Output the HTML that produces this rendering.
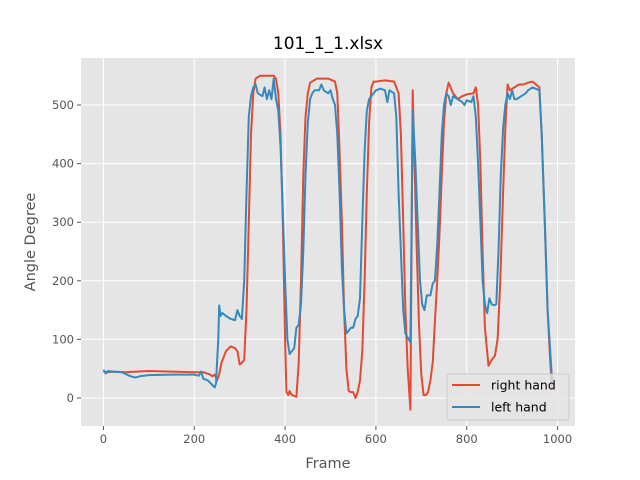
<!DOCTYPE html>
<html><head><meta charset="utf-8"><style>
body{margin:0;background:#fff;}
svg{display:block;font-family:"DejaVu Sans","Liberation Sans",sans-serif;}
</style></head><body>
<svg id="chart" width="640" height="480"></svg>
<script>
const xTicks=[0,200,400,600,800,1000];
const yTicks=[0,100,200,300,400,500];
const rightHand=[[0,45],[10,44],[20,45],[50,44],[100,46],[150,45],[200,44],[220,44],[235,40],[240,37],[245,40],[250,30],[255,40],[260,60],[270,80],[280,88],[290,85],[295,80],[300,57],[305,60],[310,65],[315,150],[320,300],[325,450],[330,520],[335,545],[345,550],[360,550],[375,550],[380,545],[385,520],[390,450],[395,300],[400,100],[403,10],[407,5],[410,12],[415,5],[425,2],[430,60],[435,200],[440,380],[445,480],[450,520],[455,538],[470,545],[480,545],[495,545],[510,540],[515,520],[520,420],[525,300],[530,150],[535,50],[540,12],[545,10],[550,10],[555,0],[560,10],[565,30],[570,80],[575,200],[580,350],[585,470],[590,530],[595,540],[600,540],[620,542],[640,540],[650,520],[655,450],[660,300],[665,150],[670,50],[676,-20],[681,525],[685,400],[690,250],[695,120],[700,40],[705,5],[710,5],[715,10],[720,30],[725,60],[730,130],[735,200],[740,280],[745,380],[750,470],[755,520],[760,538],[770,520],[780,510],[790,515],[800,518],[815,520],[820,530],[825,500],[830,400],[835,250],[840,120],[848,55],[855,65],[862,72],[868,100],[874,200],[880,350],[885,460],[890,535],[895,525],[905,530],[915,535],[925,535],[935,538],[945,540],[960,530],[965,450],[972,300],[978,150],[984,60],[988,15]];
const leftHand=[[0,48],[5,42],[10,46],[20,45],[40,44],[60,37],[70,35],[80,37],[100,39],[150,40],[200,40],[210,38],[215,45],[220,33],[230,30],[240,22],[245,18],[248,25],[250,60],[253,100],[255,158],[258,140],[262,145],[270,140],[280,135],[290,133],[295,150],[300,140],[305,135],[310,200],[315,350],[320,480],[325,515],[330,530],[335,535],[340,520],[350,515],[355,530],[360,510],[365,525],[370,510],[375,545],[380,510],[385,490],[390,430],[395,320],[400,200],[405,100],[410,75],[415,80],[420,85],[425,120],[430,125],[435,160],[440,250],[445,380],[450,470],[455,510],[460,520],[465,525],[475,525],[480,535],[485,525],[495,520],[500,525],[505,510],[510,500],[515,450],[520,350],[525,220],[530,150],[535,110],[540,115],[545,120],[550,120],[555,135],[560,140],[565,170],[570,300],[575,420],[580,490],[585,510],[590,515],[600,525],[610,528],[620,525],[625,505],[630,525],[640,520],[645,480],[650,350],[655,250],[660,150],[665,110],[676,95],[681,490],[687,400],[692,300],[697,200],[702,160],[707,150],[712,175],[720,175],[725,195],[730,200],[735,260],[740,350],[745,450],[750,500],[755,520],[760,515],[765,500],[770,515],[780,510],[790,505],[795,500],[800,508],[810,505],[815,515],[820,480],[825,400],[830,300],[835,200],[840,160],[845,145],[850,170],[855,160],[860,158],[865,160],[870,250],[875,380],[880,460],[885,500],[890,520],[895,510],[900,525],[905,510],[910,510],[920,515],[930,520],[935,525],[945,530],[960,525],[965,450],[972,300],[978,150],[988,30]];
const L=81,R=575,T=58,B=426;
const xMin=-49.4,xMax=1038.4,yMin=-47.8,yMax=580.2;
function sx(v){return L+(v-xMin)/(xMax-xMin)*(R-L);}
function sy(v){return B-(v-yMin)/(yMax-yMin)*(B-T);}
const svg=document.getElementById('chart');
const NS='http://www.w3.org/2000/svg';
function el(t,a,p){const e=document.createElementNS(NS,t);for(const k in a)e.setAttribute(k,a[k]);(p||svg).appendChild(e);return e;}
const bg=el('rect',{x:L,y:T,width:R-L,height:B-T,fill:'#e5e5e5'});


xTicks.forEach(v=>{
 const g=el('line',{x1:sx(v),x2:sx(v),y1:T,y2:B,stroke:'#fff','stroke-width':1});
 
 
 el('line',{x1:sx(v),x2:sx(v),y1:B,y2:B+4,stroke:'#555'});
 const t=el('text',{x:sx(v),y:B+17,'text-anchor':'middle','font-size':11.5,fill:'#555'});
 t.textContent=v;
 
 
});
yTicks.forEach(v=>{
 const g=el('line',{x1:L,x2:R,y1:sy(v),y2:sy(v),stroke:'#fff','stroke-width':1});
 
 
 el('line',{x1:L-4,x2:L,y1:sy(v),y2:sy(v),stroke:'#555'});
 const t=el('text',{x:L-7,y:sy(v)+4,'text-anchor':'end','font-size':11.5,fill:'#555'});
 t.textContent=v;
 
 
});
function line(d,c,n){
 const p=el('polyline',{points:d.map(q=>sx(q[0]).toFixed(1)+','+sy(q[1]).toFixed(1)).join(' '),fill:'none',stroke:c,'stroke-width':2,'stroke-linejoin':'round'});
 
 
}
line(rightHand,'#e24a33','right-hand-line');
line(leftHand,'#348abd','left-hand-line');
const title=el('text',{x:(L+R)/2,y:49,'text-anchor':'middle','font-size':17,fill:'#000'});
title.textContent='101_1_1.xlsx';


const xl=el('text',{x:(L+R)/2,y:468,'text-anchor':'middle','font-size':14.5,fill:'#555'});
xl.textContent='Frame';


const yl=el('text',{x:35,y:(T+B)/2,'text-anchor':'middle','font-size':14.5,fill:'#555',transform:'rotate(-90 35 '+(T+B)/2+')'});
yl.textContent='Angle Degree';


const lg=el('g',{});


el('rect',{x:447,y:374,width:122,height:46,rx:3,fill:'#e5e5e5','fill-opacity':0.8,stroke:'#ccc'},lg);
[['right hand','#e24a33',385],['left hand','#348abd',407]].forEach(a=>{
 const li=el('line',{x1:452,x2:480,y1:a[2],y2:a[2],stroke:a[1],'stroke-width':2},lg);
 
 
 const t=el('text',{x:491,y:a[2]+4.5,'font-size':12.5,fill:'#000'},lg);
 t.textContent=a[0];
 
 
});
</script>
</body></html>
